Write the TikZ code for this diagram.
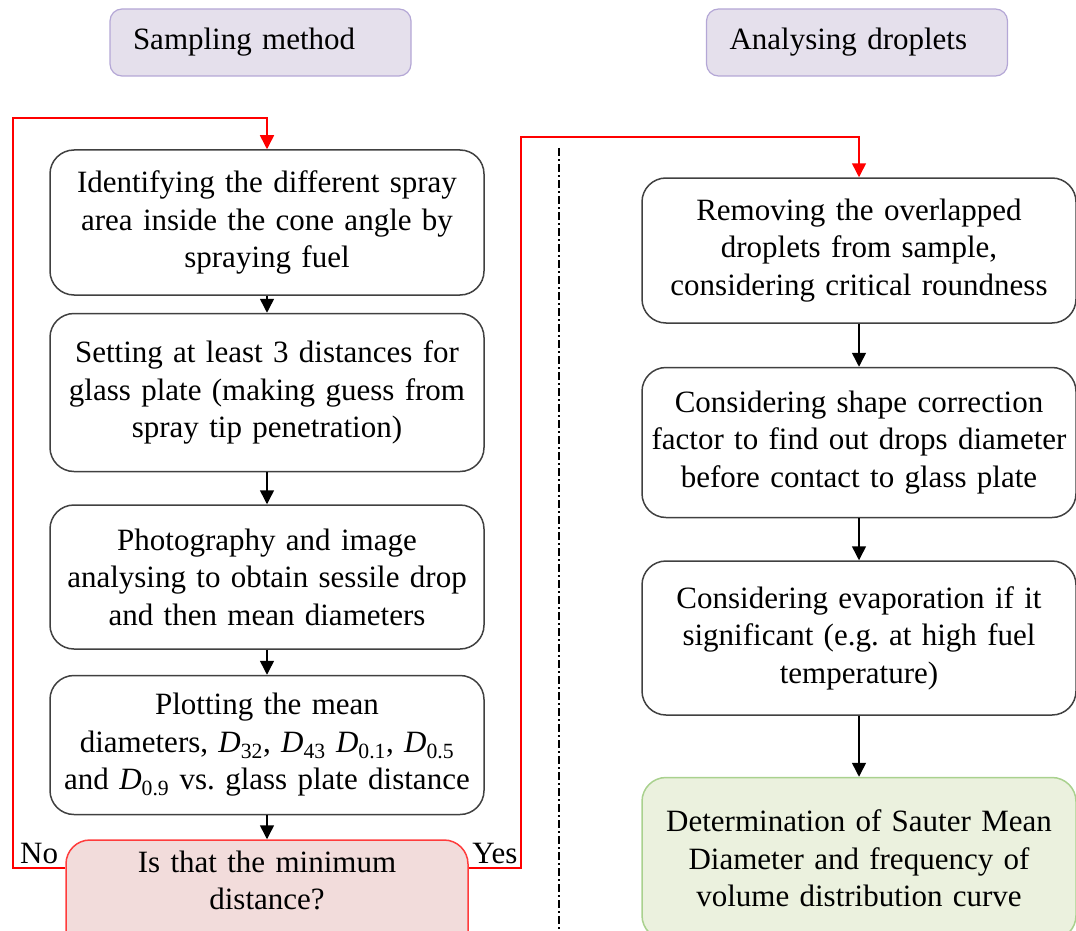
\documentclass[tikz,border=0pt]{standalone}
\usepackage{fontspec}
\setmainfont{Liberation Serif}
\usepackage{tikz}
\usetikzlibrary{arrows.meta,positioning}
\definecolor{flowgray}{RGB}{64,64,64}
\definecolor{headfill}{RGB}{229,224,236}
\definecolor{headline}{RGB}{180,167,214}
\definecolor{askfill}{RGB}{242,220,219}
\definecolor{askline}{RGB}{255,60,60}
\definecolor{endfill}{RGB}{235,241,222}
\definecolor{endline}{RGB}{169,209,142}
\definecolor{backred}{RGB}{255,0,0}

\begin{document}
\begin{tikzpicture}[
  x=1pt, y=-1pt,
  font=\fontsize{31}{37.5}\selectfont,
  titlebox/.style={draw=headline, line width=1.2pt, fill=headfill, rounded corners=12pt,
                   minimum width=301pt, minimum height=67pt, text width=255pt,
                   align=left, inner xsep=23pt},
  box/.style={draw=flowgray, line width=1.5pt, rounded corners=24pt, fill=white,
              text width=430pt, align=center, inner xsep=2pt},
  ask/.style={box, draw=askline, fill=askfill, text width=398pt},
  result/.style={box, draw=endline, fill=endfill},
  arrow/.style={-{Triangle[length=14pt,width=14pt]}, line width=1.5pt, color=black},
  backline/.style={arrow, color=backred},
  sepline/.style={line width=1.5pt, dash pattern=on 8pt off 3pt on 2pt off 3pt}
]
  \useasboundingbox (0,0) rectangle (1076,931);

  % column titles
  \node[titlebox] (samphead) at (260.5,42.5) {Sampling method};
  \node[titlebox] (anahead) at (857,42.5) {Analysing droplets};

  % sampling steps
  \node[box, minimum height=145pt] (b1) at (267,222.5)
    {Identifying the different spray\\area inside the cone angle by\\spraying fuel};
  \node[box, minimum height=158pt, below=17pt of b1] (b2)
    {Setting at least 3 distances for\\glass plate (making guess from\\spray tip penetration)};
  \node[box, minimum height=144pt, below=32pt of b2] (b3)
    {Photography and image\\analysing to obtain sessile drop\\and then mean diameters};
  \node[box, minimum height=139pt, below=25pt of b3] (b4)
    {Plotting the mean\\diameters, \textit{D}\textsubscript{32}, \textit{D}\textsubscript{43}
     \textit{D}\textsubscript{0.1}, \textit{D}\textsubscript{0.5}\\and
     \textit{D}\textsubscript{0.9} vs.\ glass plate distance};
  \node[ask, text height=22pt, text depth=80pt, inner ysep=10pt, below=24pt of b4] (dec)
    {Is that the minimum\\distance?};

  % analysing steps
  \node[box, minimum height=145pt] (r1) at (859,250.5)
    {Removing the overlapped\\droplets from sample,\\considering critical roundness};
  \node[box, minimum height=150pt, below=43pt of r1] (r2)
    {Considering shape correction\\factor to find out drops diameter\\before contact to glass plate};
  \node[box, minimum height=154pt, below=42pt of r2] (r3)
    {Considering evaporation if it\\significant (e.g.\ at high fuel\\temperature)};
  \node[result, minimum height=162pt, below=61pt of r3] (r4)
    {Determination of Sauter Mean\\Diameter and frequency of\\volume distribution curve};

  \draw[sepline] (559,148) -- (559,940);

  \draw[arrow] (b1) -- (b2);
  \draw[arrow] (b2) -- (b3);
  \draw[arrow] (b3) -- (b4);
  \draw[arrow] (b4) -- (dec);
  \draw[arrow] (r1) -- (r2);
  \draw[arrow] (r2) -- (r3);
  \draw[arrow] (r3) -- (r4);

  % decision branches
  \coordinate (nofoot) at (13,868);
  \coordinate (noturn) at (13,118);
  \coordinate (yesfoot) at (521,868);
  \coordinate (yesturn) at (521,137);
  \draw[backline] (nofoot -| dec.west) -- node[above, inner sep=3pt, text=black] (nolab) {No} (nofoot)
    -- (noturn) -| (b1.north);
  \draw[backline] (yesfoot -| dec.east) -- node[above, inner sep=3pt, text=black] (yeslab) {Yes} (yesfoot)
    -- (yesturn) -| (r1.north);
\end{tikzpicture}
\end{document}
